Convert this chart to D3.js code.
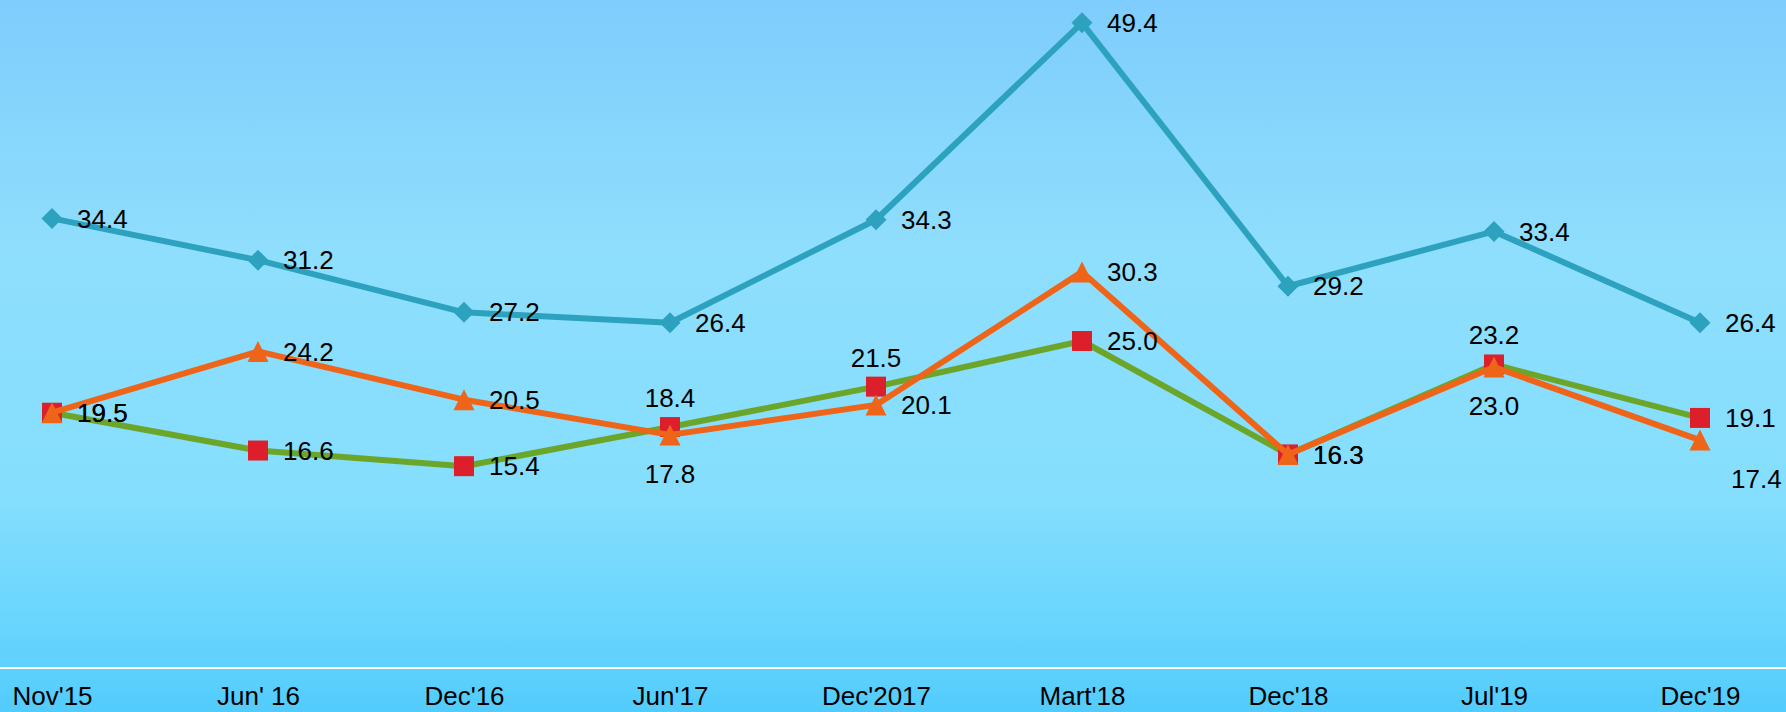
<!DOCTYPE html>
<html>
<head>
<meta charset="utf-8">
<script src="https://cdn.jsdelivr.net/npm/d3@7"></script>
<style>
  html, body { margin: 0; padding: 0; overflow: hidden; }
  svg { display: block; font-family: "Liberation Sans", Arial, sans-serif; }
</style>
</head>
<body>
<svg class="chartSVG" width="1786" height="712"></svg>
<script>
// chart data
const categories = ["Nov'15", "Jun' 16", "Dec'16", "Jun'17", "Dec'2017", "Mart'18", "Dec'18", "Jul'19", "Dec'19"];

const tealValues   = [34.4, 31.2, 27.2, 26.4, 34.3, 49.4, 29.2, 33.4, 26.4];
const greenValues  = [19.5, 16.6, 15.4, 18.4, 21.5, 25.0, 16.3, 23.2, 19.1];
const orangeValues = [19.5, 24.2, 20.5, 17.8, 20.1, 30.3, 16.3, 23.0, 17.4];

// where each value label sits: r = right, a = above, b = below, br = below right
const tealLabelPos   = ['r', 'r', 'r', 'r', 'r', 'r', 'r', 'r', 'r'];
const greenLabelPos  = ['r', 'r', 'r', 'a', 'a', 'r', 'r', 'a', 'r'];
const orangeLabelPos = ['r', 'r', 'r', 'b', 'r', 'r', 'r', 'b', 'br'];

const W = 1786, H = 712;
const svg = d3.select('svg.chartSVG');

// background gradient
const defs = svg.append('defs');
const grad = defs.append('linearGradient')
    .attr('id', 'bgGrad')
    .attr('x1', 0).attr('y1', 0).attr('x2', 0).attr('y2', 1);
[
  ['0%', '#7ecdfc'],
  ['35%', '#8fdefd'],
  ['70%', '#85defd'],
  ['88%', '#68d5fd'],
  ['100%', '#52ccfc']
].forEach(s => grad.append('stop').attr('offset', s[0]).attr('stop-color', s[1]));

svg.append('rect')
    .attr('width', W).attr('height', H)
    .attr('fill', 'url(#bgGrad)');

// scales
const x = d3.scalePoint()
    .domain(categories)
    .range([52, 1700]);

const y = d3.scaleLinear()
    .domain([0, 50])
    .range([667, 15]);

// baseline
svg.append('line')
    .attr('x1', 0).attr('x2', W)
    .attr('y1', y(0) + 1).attr('y2', y(0) + 1)
    .style('stroke', '#ffffff')
    .style('stroke-width', 2);

// category labels
const xAxis = d3.axisBottom(x).tickSize(0).tickPadding(0);
const axisGrp = svg.append('g')
    .attr('class', 'xAxis')
    .attr('transform', `translate(0, ${y(0)})`)
    .call(xAxis);
axisGrp.select('.domain').remove();
axisGrp.selectAll('text')
    .attr('dy', null)
    .attr('y', 38)
    .style('font-size', '26px')
    .style('fill', '#000')
    .style('font-family', '"Liberation Sans", Arial, sans-serif');

// marker shapes
function diamond(s) {
  return `M0,${-s}L${s},0L0,${s}L${-s},0Z`;
}
function square(s) {
  return `M${-s},${-s}H${s}V${s}H${-s}Z`;
}
function triangle(s) {
  return `M0,${-s}L${s},${s}L${-s},${s}Z`;
}

const seriesList = [
  { name: 'teal',   values: tealValues,   labelPos: tealLabelPos,
    line: '#2ca2bf', lineW: 6, marker: d => diamond(10.5), markerFill: '#2ca2bf' },
  { name: 'green',  values: greenValues,  labelPos: greenLabelPos,
    line: '#6ba62a', lineW: 6, marker: d => square(10), markerFill: '#dc1f2b' },
  { name: 'orange', values: orangeValues, labelPos: orangeLabelPos,
    line: '#ee6519', lineW: 6, marker: d => triangle(10.5), markerFill: '#ee6519' }
];

const lineGen = d3.line()
    .x(d => x(d.cat))
    .y(d => y(d.val));

const seriesGrps = svg.selectAll('g.series')
    .data(seriesList)
    .enter()
    .append('g')
    .attr('class', d => 'series ' + d.name);

seriesGrps.append('path')
    .attr('d', s => lineGen(s.values.map((v, i) => ({ cat: categories[i], val: v }))))
    .style('fill', 'none')
    .style('stroke', s => s.line)
    .style('stroke-width', s => s.lineW)
    .style('stroke-linejoin', 'round');

seriesGrps.each(function(s) {
  const pts = s.values.map((v, i) => ({ cat: categories[i], val: v, pos: s.labelPos[i] }));
  d3.select(this).selectAll('path.marker')
    .data(pts)
    .enter()
    .append('path')
    .attr('class', 'marker')
    .attr('transform', d => `translate(${x(d.cat)}, ${y(d.val)})`)
    .attr('d', s.marker)
    .style('fill', s.markerFill);
});

// value labels (drawn last so they sit above every line)
seriesList.forEach(s => {
  const pts = s.values.map((v, i) => ({ cat: categories[i], val: v, pos: s.labelPos[i] }));
  svg.append('g').attr('class', 'labels ' + s.name)
    .selectAll('text')
    .data(pts)
    .enter()
    .append('text')
    .attr('x', d => {
      const px = x(d.cat);
      if (d.pos === 'r') return px + 25;
      if (d.pos === 'br') return px + 31;
      return px;
    })
    .attr('y', d => {
      const py = y(d.val);
      if (d.pos === 'a') return py - 20;
      if (d.pos === 'b' || d.pos === 'br') return py + 48;
      return py;
    })
    .attr('dy', d => d.pos === 'r' ? '0.35em' : 0)
    .style('text-anchor', d => (d.pos === 'a' || d.pos === 'b') ? 'middle' : 'start')
    .style('font-size', '26px')
    .style('fill', '#000')
    .text(d => d.val.toFixed(1));
});
</script>
</body>
</html>
